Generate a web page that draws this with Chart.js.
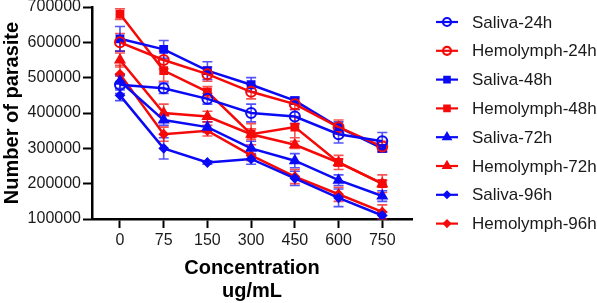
<!DOCTYPE html>
<html>
<head>
<meta charset="utf-8">
<script src="https://cdn.jsdelivr.net/npm/chart.js@4.4.1/dist/chart.umd.min.js"></script>
<style>
  html, body { margin: 0; padding: 0; background: #fff; }
  #wrap { width: 597px; height: 303px; position: relative; }
</style>
</head>
<body>
<div id="wrap"><canvas id="chart"></canvas></div>
<script>
// concentration groups (ug/mL)
const concentrations = ['0', '75', '150', '300', '450', '600', '750'];
const yTicks = [100000, 200000, 300000, 400000, 500000, 600000, 700000];

// mean number of parasites per group
const saliva24 = [480000, 470000, 440000, 400000, 390000, 340000, 320000];
const hemo24 = [600000, 550000, 510000, 460000, 425000, 360000, 305000];
const saliva48 = [610000, 580000, 520000, 480000, 435000, 360000, 300000];
const hemo48 = [680000, 520000, 460000, 340000, 360000, 260000, 200000];
const saliva72 = [490000, 380000, 360000, 300000, 265000, 210000, 165000];
const hemo72 = [550000, 400000, 390000, 340000, 310000, 260000, 200000];
const saliva96 = [450000, 300000, 260000, 270000, 215000, 160000, 110000];
const hemo96 = [510000, 340000, 350000, 280000, 220000, 170000, 120000];

// error bar half-lengths
const saliva24Err = [25000, 15000, 15000, 25000, 20000, 25000, 25000];
const hemo24Err = [25000, 25000, 20000, 20000, 15000, 20000, 15000];
const saliva48Err = [35000, 25000, 25000, 20000, 10000, 15000, 10000];
const hemo48Err = [15000, 30000, 15000, 30000, 30000, 20000, 25000];
const saliva72Err = [20000, 15000, 15000, 20000, 20000, 15000, 15000];
const hemo72Err = [20000, 25000, 15000, 15000, 10000, 10000, 10000];
const saliva96Err = [15000, 30000, 5000, 15000, 20000, 25000, 10000];
const hemo96Err = [25000, 20000, 15000, 15000, 20000, 20000, 20000];

const BLUE = '#0a0af5';
const RED = '#f50a0a';
const FONT = '"Liberation Sans", Arial, sans-serif';

function series(label, values, errs, color, style, radius, hollow) {
  return {
    label,
    data: values.map((v, i) => ({ x: i, y: v })),
    errs,
    borderColor: color,
    backgroundColor: color,
    borderWidth: 2.5,
    pointStyle: style,
    pointRadius: radius,
    pointBorderWidth: 2,
    pointBorderColor: color,
    pointBackgroundColor: hollow ? 'rgba(0,0,0,0)' : color,
    tension: 0,
  };
}

const datasets = [
  series('Saliva-24h', saliva24, saliva24Err, BLUE, 'circle', 5, true),
  series('Hemolymph-24h', hemo24, hemo24Err, RED, 'circle', 5, true),
  series('Saliva-48h', saliva48, saliva48Err, BLUE, 'rect', 4.8, false),
  series('Hemolymph-48h', hemo48, hemo48Err, RED, 'rect', 4.8, false),
  series('Saliva-72h', saliva72, saliva72Err, BLUE, 'triangle', 5, false),
  series('Hemolymph-72h', hemo72, hemo72Err, RED, 'triangle', 5, false),
  series('Saliva-96h', saliva96, saliva96Err, BLUE, 'rectRot', 4, false),
  series('Hemolymph-96h', hemo96, hemo96Err, RED, 'rectRot', 4, false),
];

const errorBars = {
  id: 'errorBars',
  beforeDatasetsDraw(chart) {
    const { ctx, scales: { x, y } } = chart;
    ctx.save();
    chart.data.datasets.forEach((ds) => {
      ctx.strokeStyle = ds.borderColor;
      ctx.globalAlpha = 0.7;
      ctx.lineWidth = 1.6;
      ds.data.forEach((p, i) => {
        const e = ds.errs[i];
        const px = x.getPixelForValue(p.x);
        const top = y.getPixelForValue(p.y + e);
        const bot = y.getPixelForValue(p.y - e);
        ctx.beginPath();
        ctx.moveTo(px, top); ctx.lineTo(px, bot);
        ctx.moveTo(px - 5, top); ctx.lineTo(px + 5, top);
        ctx.moveTo(px - 5, bot); ctx.lineTo(px + 5, bot);
        ctx.stroke();
      });
    });
    ctx.restore();
  },
};

const sideLegend = {
  id: 'sideLegend',
  afterDraw(chart) {
    const ctx = chart.ctx;
    ctx.save();
    chart.data.datasets.forEach((ds, i) => {
      const yy = 22 + i * 28.8;
      ctx.strokeStyle = ds.borderColor;
      ctx.lineWidth = 2.2;
      ctx.beginPath();
      ctx.moveTo(436, yy); ctx.lineTo(458, yy);
      ctx.stroke();
      ctx.fillStyle = ds.pointBackgroundColor;
      Chart.helpers.drawPoint(ctx, {
        pointStyle: ds.pointStyle, radius: ds.pointRadius - 1, rotation: 0, borderWidth: 2,
      }, 447, yy);
      ctx.fillStyle = '#1a1a1a';
      ctx.font = '17px ' + FONT;
      ctx.textBaseline = 'middle';
      ctx.textAlign = 'left';
      ctx.fillText(ds.label, 472, yy + 1);
    });
    ctx.restore();
  },
};

new Chart(document.getElementById('chart'), {
  type: 'line',
  data: { datasets },
  plugins: [errorBars, sideLegend],
  options: {
    responsive: true,
    maintainAspectRatio: false,
    animation: false,
    layout: { padding: { left: 0, top: 6, right: 185, bottom: 0 } },
    plugins: { legend: { display: false }, tooltip: { enabled: false } },
    scales: {
      x: {
        type: 'linear',
        min: -0.64,
        max: 6.68,
        afterBuildTicks: (s) => { s.ticks = concentrations.map((c, i) => ({ value: i })); },
        afterFit: (s) => { s.height = 84; s.paddingLeft = 0; s.paddingRight = 0; },
        grid: { drawOnChartArea: false, tickLength: 9, tickWidth: 2, color: '#000' },
        border: { color: '#000', width: 2.5 },
        ticks: {
          padding: 3,
          color: '#1a1a1a',
          font: { family: FONT, size: 16 },
          callback: (v) => concentrations[v],
        },
        title: {
          display: true,
          text: ['Concentration', 'ug/mL'],
          color: '#000',
          font: { family: FONT, size: 20, weight: 'bold', lineHeight: 1.15 },
          padding: { top: 6, bottom: 0 },
        },
      },
      y: {
        min: 100000,
        max: 700000,
        afterBuildTicks: (s) => { s.ticks = yTicks.map((v) => ({ value: v })); },
        afterFit: (s) => { s.width = 92; s.paddingTop = 0; s.paddingBottom = 0; },
        grid: { drawOnChartArea: false, tickLength: 9, tickWidth: 2, color: '#000' },
        border: { color: '#000', width: 2.5 },
        ticks: {
          padding: 2,
          color: '#1a1a1a',
          font: { family: FONT, size: 16 },
          callback: (v) => String(v),
        },
        title: {
          display: true,
          text: 'Number of parasite',
          color: '#000',
          font: { family: FONT, size: 20, weight: 'bold' },
          padding: 0,
        },
      },
    },
  },
});
</script>
</body>
</html>
